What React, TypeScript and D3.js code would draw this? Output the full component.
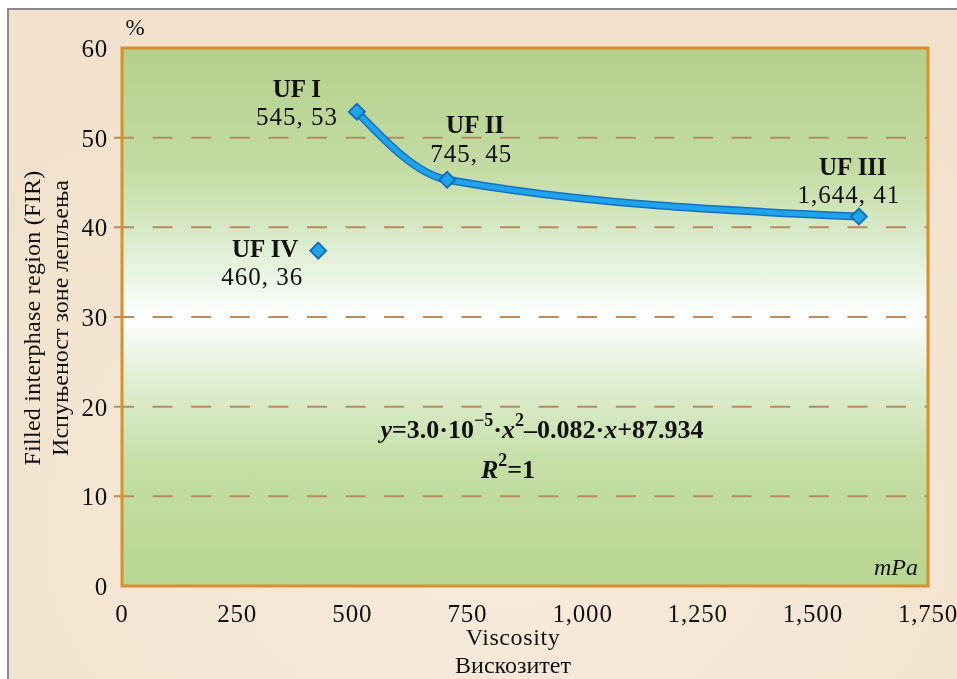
import React from "react";
import * as d3 from "d3";

// values (marker positions) and the printed labels
const sampleNames = ["UF I", "UF II", "UF III", "UF IV"];
const viscosity = [510, 706, 1600, 426];
const filledRegion = [52.9, 45.3, 41.2, 37.4];
const pointLabels = ["545, 53", "745, 45", "1,644, 41", "460, 36"];
const fittedSamples = ["UF I", "UF II", "UF III"];

const xTicks = [0, 250, 500, 750, 1000, 1250, 1500, 1750];
const yTicks = [0, 10, 20, 30, 40, 50, 60];
const gridValues = [10, 20, 30, 40, 50];

// label placement relative to marker
const labelLayout = [
    { dx: -60, nameDy: -15, valueDx: -60, valueDy: 13 },
    { dx: 28, nameDy: -47, valueDx: 24, valueDy: -18 },
    { dx: -6, nameDy: -42, valueDx: -10, valueDy: -14 },
    { dx: -53, nameDy: 6, valueDx: -56, valueDy: 34 },
];

const W = 957;
const H = 679;
const serif = "'Liberation Serif', 'Times New Roman', serif";

export default function App() {
    const x = d3.scaleLinear().domain([0, 1750]).range([122, 928]);
    const y = d3.scaleLinear().domain([0, 60]).range([586, 48]);
    const fmt = d3.format(",");

    const points = sampleNames.map((name, i) => ({
        name,
        vx: viscosity[i],
        vy: filledRegion[i],
        label: pointLabels[i],
        layout: labelLayout[i],
    }));

    const curvePts = points.filter(p => fittedSamples.includes(p.name));
    const line = d3.line<any>()
        .x(d => x(d.vx))
        .y(d => y(d.vy))
        .curve(d3.curveMonotoneX);
    const pathD = line(curvePts) || "";

    const [x0, x1] = x.range();
    const [yb, yt] = y.range();

    return (
        <div style={{ position: "fixed", left: 0, top: 0, width: W, height: H }}>
            <svg width={W} height={H} style={{ display: "block" }} fontFamily={serif}>
                <defs>
                    <linearGradient id="plotBg" x1="0" y1="0" x2="0" y2="1">
                        <stop offset="0" stopColor="#b4d08b" />
                        <stop offset="0.22" stopColor="#c3dba2" />
                        <stop offset="0.36" stopColor="#dbecce" />
                        <stop offset="0.5" stopColor="#ffffff" />
                        <stop offset="0.62" stopColor="#dfeed2" />
                        <stop offset="0.78" stopColor="#c4dea4" />
                        <stop offset="1" stopColor="#b7d690" />
                    </linearGradient>
                    <radialGradient id="panelBg" cx="0.5" cy="0.75" r="0.7">
                        <stop offset="0" stopColor="#f7ebdc" />
                        <stop offset="1" stopColor="#f2e2cd" />
                    </radialGradient>
                </defs>

                <rect x={8} y={9} width={W + 20} height={H + 20}
                    fill="url(#panelBg)" stroke="#8a8a8a" strokeWidth={2} />

                <rect x={x0} y={yt} width={x1 - x0} height={yb - yt} fill="url(#plotBg)" />

                {gridValues.map(v => (
                    <line key={v} x1={114} x2={x1} y1={y(v)} y2={y(v)}
                        stroke="#b98a5c" strokeWidth={2} strokeDasharray="20 18.6" />
                ))}

                <rect x={x0} y={yt} width={x1 - x0} height={yb - yt}
                    fill="none" stroke="#d98f2e" strokeWidth={3} />

                {yTicks.map(v => (
                    <text key={v} x={108} y={y(v) + 9} fontSize={25} letterSpacing={0.8}
                        textAnchor="end" fill="#111">
                        {v}
                    </text>
                ))}
                {xTicks.map(v => (
                    <text key={v} x={x(v)} y={622} fontSize={25} letterSpacing={0.8}
                        textAnchor="middle" fill="#111">
                        {fmt(v)}
                    </text>
                ))}

                <text x={135} y={35} fontSize={23} textAnchor="middle" fill="#111">%</text>
                <text x={918} y={575} fontSize={24} fontStyle="italic" textAnchor="end" fill="#111">mPa</text>

                <text transform="translate(40,318) rotate(-90)" fontSize={24} letterSpacing={0.25}
                    textAnchor="middle" fill="#111">
                    Filled interphase region (FIR)
                </text>
                <text transform="translate(68,318) rotate(-90)" fontSize={24} textAnchor="middle" fill="#111">
                    Испуњеност зоне лепљења
                </text>
                <text x={513} y={645} fontSize={24} letterSpacing={0.6} textAnchor="middle" fill="#111">
                    Viscosity
                </text>
                <text x={513} y={673} fontSize={24} textAnchor="middle" fill="#111">Вискозитет</text>

                <path d={pathD} fill="none" stroke="#1571bd" strokeWidth={8} strokeLinecap="round" />
                <path d={pathD} fill="none" stroke="#1ea3ec" strokeWidth={5} strokeLinecap="round" />

                {points.map(p => {
                    const cx = x(p.vx);
                    const cy = y(p.vy);
                    const r = 8;
                    return (
                        <g key={p.name}>
                            <path d={`M${cx},${cy - r}L${cx + r},${cy}L${cx},${cy + r}L${cx - r},${cy}Z`}
                                fill="#1ea3ec" stroke="#0e6cb6" strokeWidth={1.8} />
                            <text x={cx + p.layout.dx} y={cy + p.layout.nameDy} fontSize={25}
                                fontWeight="bold" textAnchor="middle" fill="#111">
                                {p.name}
                            </text>
                            <text x={cx + p.layout.valueDx} y={cy + p.layout.valueDy} fontSize={25}
                                letterSpacing={1} textAnchor="middle" fill="#111">
                                {p.label}
                            </text>
                        </g>
                    );
                })}

                <text x={542} y={438} fontSize={26} fontWeight="bold" textAnchor="middle" fill="#111">
                    <tspan fontStyle="italic">y</tspan>
                    <tspan>=3.0·10</tspan>
                    <tspan fontSize={18} dy={-12}>−5</tspan>
                    <tspan dy={12}>·</tspan>
                    <tspan fontStyle="italic">x</tspan>
                    <tspan fontSize={18} dy={-12}>2</tspan>
                    <tspan dy={12}>–0.082·</tspan>
                    <tspan fontStyle="italic">x</tspan>
                    <tspan>+87.934</tspan>
                </text>
                <text x={508} y={478} fontSize={26} fontWeight="bold" textAnchor="middle" fill="#111">
                    <tspan fontStyle="italic">R</tspan>
                    <tspan fontSize={18} dy={-12}>2</tspan>
                    <tspan dy={12}>=1</tspan>
                </text>
            </svg>
        </div>
    );
}
